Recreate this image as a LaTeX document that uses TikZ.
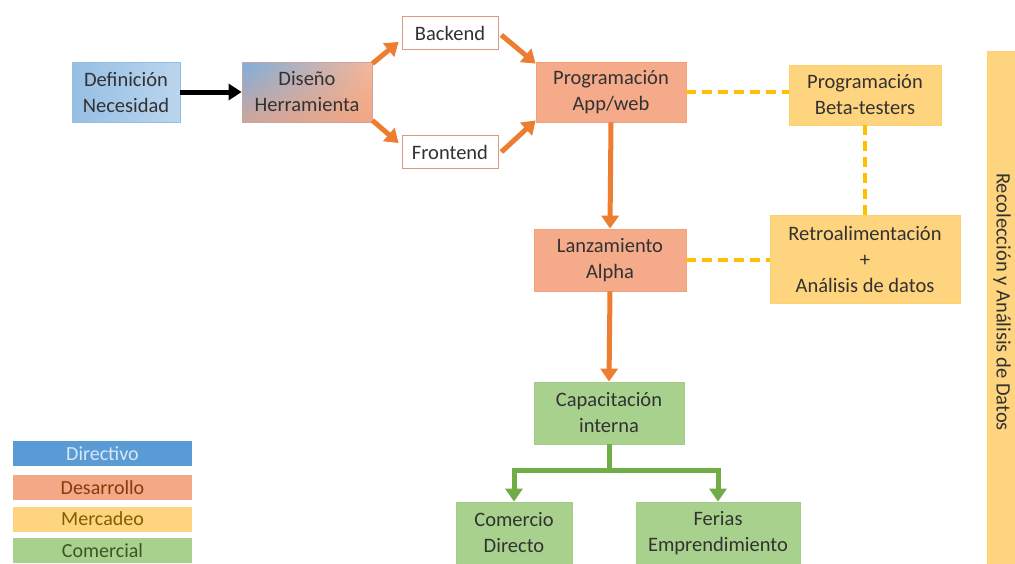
\documentclass[tikz,border=0pt]{standalone}
\usepackage{fontspec}
\setmainfont{Carlito}
\usetikzlibrary{arrows.meta,shadings}
\definecolor{dirblue}{RGB}{91,155,213}
\definecolor{dirlight}{RGB}{157,195,230}
\definecolor{desfill}{RGB}{245,170,137}
\definecolor{desdark}{RGB}{132,60,12}
\definecolor{merfill}{RGB}{255,212,126}
\definecolor{merdark}{RGB}{127,96,0}
\definecolor{comfill}{RGB}{169,209,142}
\definecolor{comdark}{RGB}{56,87,35}
\definecolor{orarrow}{RGB}{237,125,49}
\definecolor{grarrow}{RGB}{112,173,71}
\definecolor{yedash}{RGB}{255,192,0}
\definecolor{txt}{RGB}{50,50,50}
\tikzset{
  box/.style={rectangle, align=center, inner sep=0pt, text=txt,
    font=\fontsize{20.5}{26}\selectfont, line width=0.8pt},
  desbox/.style={box, fill=desfill, draw=desfill!80!orarrow},
  merbox/.style={box, fill=merfill, draw=merfill!85!yedash},
  combox/.style={box, fill=comfill, draw=comfill!85!grarrow},
  whitebox/.style={box, fill=white, draw=desfill!90!black},
  legbox/.style={rectangle, inner sep=0pt, minimum width=179pt, minimum height=25pt,
    font=\fontsize{20}{22}\selectfont},
  orar/.style={draw=orarrow, line width=5pt, -{Triangle[length=13pt,width=17pt]}},
  grar/.style={draw=grarrow, line width=5pt, -{Triangle[length=13pt,width=17pt]}},
  grline/.style={draw=grarrow, line width=5pt},
  yeline/.style={draw=yedash, line width=3.5pt, dash pattern=on 10pt off 6pt},
}
\begin{document}
\begin{tikzpicture}[x=1pt,y=-1pt]
\useasboundingbox (0,0) rectangle (1015,563);
\fill[white] (0,0) rectangle (1015,563);

% top row
\node[box, minimum width=108pt, minimum height=60pt, draw=dirlight!85!dirblue,
  left color=dirlight!90!dirblue, right color=dirlight!70!white] (def) at (126,92) {Definición\\Necesidad};
\node[box, minimum width=130pt, minimum height=60pt, draw=desfill!70!dirblue,
  upper left=dirblue!80!white, upper right=desfill!85!white, lower left=desfill!75!dirblue, lower right=desfill!90!orarrow] (dis) at (307,92) {Diseño\\Herramienta};
\node[whitebox, minimum width=96pt, minimum height=33pt] (back) at (450,33) {Backend};
\node[whitebox, minimum width=96pt, minimum height=33pt] (front) at (450,152) {Frontend};
\node[desbox, minimum width=150pt, minimum height=60pt] (prog) at (611,92) {Programación\\App/web};
\node[merbox, minimum width=152pt, minimum height=60pt] (beta) at (865,95) {Programación\\Beta-testers};
\node[desbox, minimum width=152pt, minimum height=62pt] (lanz) at (610,260) {Lanzamiento\\Alpha};
\node[merbox, minimum width=190pt, minimum height=88pt] (retro) at (865,259) {Retroalimentación\\+\\Análisis de datos};
\node[combox, minimum width=150pt, minimum height=62pt] (cap) at (609,413) {Capacitación\\interna};
\node[combox, minimum width=116pt, minimum height=62pt] (com) at (514,533) {Comercio\\Directo};
\node[combox, minimum width=164pt, minimum height=62pt] (fer) at (718,533) {Ferias\\Emprendimiento};

% right tall box
\node[merbox, minimum width=30pt, minimum height=530pt, anchor=north west] (rec) at (987,51) {};
\node[box, rotate=-90] (rectxt) at (1002,302) {Recolección y Análisis de Datos};

% legend
\node[legbox, fill=dirblue, text=dirlight!40!white] (l1) at (102.5,453.5) {Directivo};
\node[legbox, fill=desfill!95!orarrow, text=desdark] (l2) at (102.5,487.5) {Desarrollo};
\node[legbox, fill=merfill, text=merdark] (l3) at (102.5,519) {Mercadeo};
\node[legbox, fill=comfill, text=comdark] (l4) at (102.5,550.5) {Comercial};

% connectors
\draw[line width=5pt, -{Triangle[length=13pt,width=16pt]}] (def.east) -- (dis.west);
\draw[orar] ([yshift=-2pt]dis.north east) -- ([xshift=-3pt,yshift=8pt]back.south west);
\draw[orar] ([yshift=2pt]dis.south east) -- ([xshift=-3pt,yshift=9pt]front.west);
\draw[orar] ([xshift=3pt,yshift=-2pt]back.east) -- ([yshift=-2pt]prog.north west);
\draw[orar] ([xshift=3pt]front.east) -- ([yshift=2pt]prog.south west);
\draw[orar] (prog.south) -- (lanz.north);
\draw[orar] (lanz.south) -- (cap.north);
\draw[grline] (cap.south) -- ++(0,26) coordinate (split);
\coordinate (cl) at (com.north |- split);
\coordinate (fr) at (fer.north |- split);
\draw[grline] ([xshift=-2.5pt]cl) -- ([xshift=2.5pt]fr);
\draw[grar] (cl) -- (com.north);
\draw[grar] (fr) -- (fer.north);
\draw[yeline] (prog.east) -- (beta.west |- prog.east);
\draw[yeline] (beta.south) -- (retro.north);
\draw[yeline] (lanz.east) -- (retro.west |- lanz.east);
\end{tikzpicture}
\end{document}
